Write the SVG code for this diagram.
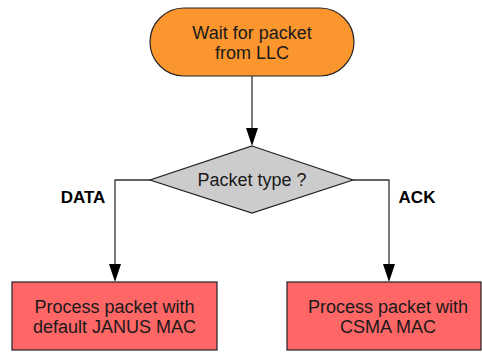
<svg xmlns="http://www.w3.org/2000/svg" width="482" height="352" viewBox="0 0 482 352">
<defs>
<style>
text{font-family:"Liberation Sans",Arial,sans-serif;font-size:18px;fill:#1a1a1a;text-anchor:middle}
.lbl{font-weight:bold;font-size:17px;fill:#000}
.ln{fill:none;stroke:#333;stroke-width:1.3}
.ah{fill:#000}
.box{fill:#ff6666;stroke:#222;stroke-width:1.2}
</style>
</defs>
<rect width="482" height="352" fill="#fff"/>
<g id="connectors">
<path class="ln" d="M252,76 V128"/>
<path class="ah" d="M246,128 L258,128 L252,146 z"/>
<path class="ln" d="M150,180 H115 V264"/>
<path class="ah" d="M109,264 L121,264 L115,282 z"/>
<path class="ln" d="M353,180 H389 V264"/>
<path class="ah" d="M383,264 L395,264 L389,282 z"/>
<text class="lbl" x="83" y="203">DATA</text>
<text class="lbl" x="417" y="203">ACK</text>
</g>
<g id="start">
<rect x="150" y="8" width="204" height="68" rx="34" ry="34" fill="#fb962f" stroke="#222" stroke-width="1.2"/>
<text x="252" y="39">Wait for packet</text>
<text x="252" y="59">from LLC</text>
</g>
<g id="decision">
<polygon points="252,146 353,180 252,213 150,180" fill="#cccccc" stroke="#222" stroke-width="1.2"/>
<text x="252" y="186">Packet type ?</text>
</g>
<g id="janus">
<rect class="box" x="12" y="282" width="205" height="68"/>
<text x="114.5" y="313">Process packet with</text>
<text x="114.5" y="333">default JANUS MAC</text>
</g>
<g id="csma">
<rect class="box" x="287" y="282" width="194" height="68"/>
<text x="388" y="313">Process packet with</text>
<text x="388" y="333">CSMA MAC</text>
</g>
</svg>
